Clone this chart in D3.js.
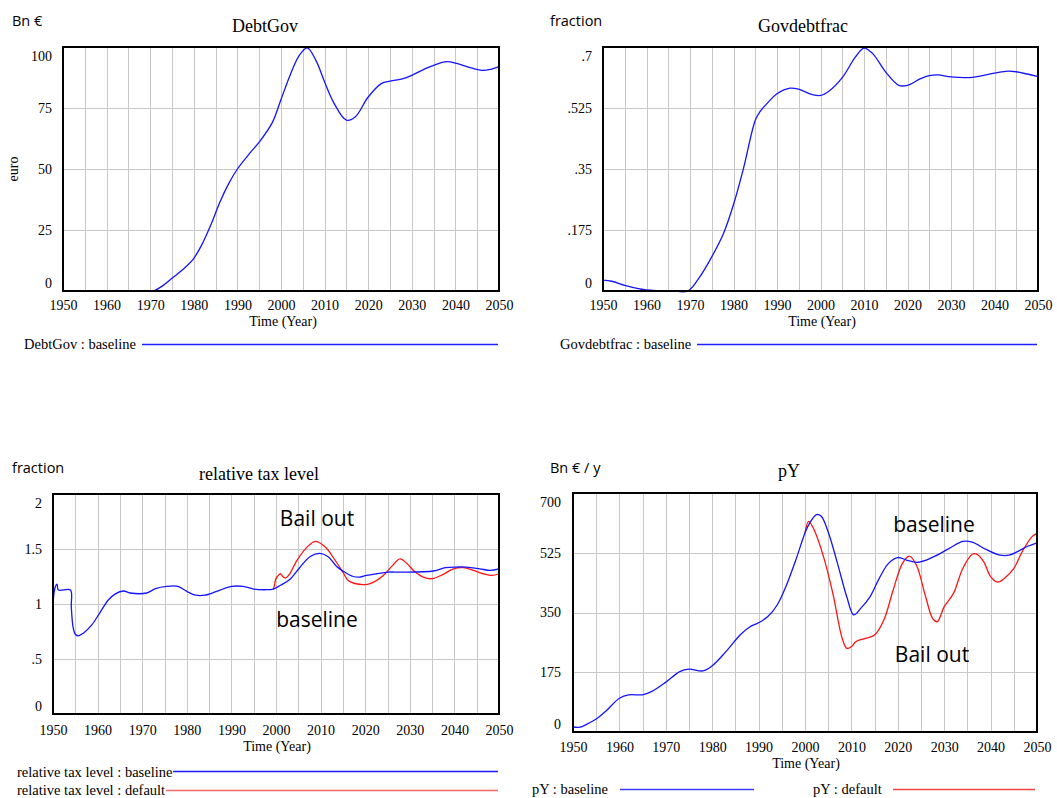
<!DOCTYPE html>
<html>
<head>
<meta charset="utf-8">
<script src="https://cdn.jsdelivr.net/npm/d3@7"></script>
<style>
  html, body { margin: 0; padding: 0; background: #fff; }
  svg { display: block; }
</style>
</head>
<body>
<script>
// ---------------- DATA ----------------
const xTickYears = [1950, 1960, 1970, 1980, 1990, 2000, 2010, 2020, 2030, 2040, 2050];
const xGridYears = d3.range(1955, 2050, 5);

const debtTicks = [0, 25, 50, 75, 100];
const debtTickLabels = ["0", "25", "50", "75", "100"];
const debtYears = [1950,1955,1960,1965,1970,1970.7,1973,1975,1978,1980,1982,1984,1986,1988,1990,1993,1995,1998,2000,2002,2004,2006,2008,2010,2012,2015,2017,2020,2023,2025,2028,2030,2033,2035,2038,2040,2043,2046,2048,2050];
const debtBaseline = [0,0,0,0,0,0,2.3,5.2,9.6,13.4,19.5,27.5,36.5,44,50,56.8,61,69,78.5,88,96,99.6,94.5,85.7,77.5,70,71.3,79.5,85,86,87,88.4,91,92.5,94,93.4,91.8,90.4,90.8,92];

const fracTicks = [0, 0.175, 0.35, 0.525, 0.7];
const fracTickLabels = ["0", ".175", ".35", ".525", ".7"];
const fracYears = [1950,1952,1955,1957,1960,1963,1966,1969.5,1972,1975,1977.7,1980,1982.3,1985,1986,1988,1990,1993,1995,1998,2000,2002,2005,2008,2010,2012,2015,2018,2020,2023,2025,2027,2030,2035,2040,2043,2045,2050];
const fracBaseline = [0.031,0.028,0.016,0.01,0.003,0.001,0,0,0.036,0.098,0.165,0.248,0.352,0.49,0.513,0.542,0.566,0.582,0.579,0.564,0.561,0.574,0.612,0.671,0.697,0.681,0.628,0.59,0.59,0.609,0.618,0.62,0.614,0.613,0.625,0.631,0.629,0.615];

const taxTicks = [0, 0.5, 1, 1.5, 2];
const taxTickLabels = ["0", ".5", "1", "1.5", "2"];
const taxYears = [1950,1950.5,1950.9,1951.2,1953.9,1954.1,1954.5,1955,1955.7,1956.8,1958.7,1960.5,1962.4,1963.9,1965.8,1967.3,1971,1973,1975.5,1978,1980,1982,1984,1986.7,1990,1992.6,1995,1997.9,1999.4,2001,2003,2005.3,2007.6,2009.8,2011.7,2013.6,2015,2017.3,2018.8,2020.3,2022.5,2025.2,2027.8,2035.3,2038,2040.5,2042.7,2045.7,2048,2050];
const taxBaseline = [1.01,1.155,1.18,1.127,1.127,0.975,0.79,0.725,0.71,0.735,0.81,0.92,1.036,1.09,1.118,1.10,1.10,1.14,1.16,1.16,1.115,1.08,1.08,1.115,1.16,1.16,1.136,1.13,1.136,1.17,1.22,1.33,1.43,1.46,1.43,1.34,1.30,1.25,1.245,1.26,1.275,1.29,1.29,1.30,1.33,1.336,1.336,1.32,1.306,1.32];
const taxDefaultYears = [1999.4,1999.6,1999.9,2000.3,2001,2001.5,2002.1,2003,2004.6,2006.8,2008.8,2011,2013.2,2015,2016.3,2019.6,2021.4,2024,2025.9,2027.8,2029.3,2031.2,2033,2035,2037.5,2039.8,2042,2044.2,2046.5,2048.4,2050];
const taxDefault = [1.136,1.16,1.22,1.25,1.275,1.25,1.236,1.27,1.39,1.51,1.57,1.52,1.40,1.29,1.21,1.176,1.19,1.257,1.34,1.41,1.37,1.29,1.245,1.23,1.27,1.32,1.33,1.306,1.275,1.26,1.275];

const pyTicks = [0, 175, 350, 525, 700];
const pyTickLabels = ["0", "175", "350", "525", "700"];
const pyYears = [1950,1951.5,1953,1955,1957,1960,1962,1965,1967,1970,1973,1975,1978,1980,1983,1986,1988,1990,1992,1994,1996,1998,2000,2001,2002.5,2003.5,2005,2007,2009,2010.5,2012,2014,2016,2018,2020,2022,2024,2026,2028,2031,2034,2036,2039,2042,2044,2046,2048,2050];
const pyBaseline = [14.6,14,23,38,60,99,109,109,119,146,177,184,179,194,236,284,307,320,338,372,430,503,583,612,637,632,586,494,396,343,362,396,450,494,511,503,497,503,515,537,558,556,535,518,518,530,544,554];
const pyDefaultYears = [2000,2000.8,2002,2004,2006,2008,2009,2010,2011,2013,2015,2017,2019,2021,2022.5,2024,2026,2027.5,2028.5,2030,2032,2034,2036,2037,2038.5,2040,2041.5,2043,2045,2047,2049,2050];
const pyDefault = [583,617,591,513,406,275,245,250,265,274,284,328,416,494,515,489,396,333,323,367,406,479,520,521,499,455,439,450,479,533,573,581];

// ---------------- DRAWING ----------------
const BLUE = "#1414ff", RED = "#ff1414";
const SERIF = "'Liberation Serif', 'Times New Roman', serif";
const SANS = "'Open Sans', 'Noto Sans', sans-serif";

const svg = d3.select("body").append("svg")
  .attr("width", 1057).attr("height", 798);

function zip(xs, ys) { return xs.map((x, i) => [x, ys[i]]); }

function serifText(sel, size) {
  return sel.style("font-family", SERIF).style("font-size", size + "px").attr("fill", "#000");
}

function panel(c) {
  const g = svg.append("g");
  const x = d3.scaleLinear().domain([1950, 2050]).range([c.left, c.right]);
  const y = d3.scaleLinear().domain([c.yTicks[0], c.yTicks[c.yTicks.length - 1]]).range([c.bottom, c.top]);

  // grid
  g.append("g").selectAll("line").data(xGridYears).join("line")
    .attr("x1", d => Math.round(x(d)) + 0.5).attr("x2", d => Math.round(x(d)) + 0.5)
    .attr("y1", c.top).attr("y2", c.bottom)
    .attr("stroke", "#c8c8c8").attr("stroke-width", 1);
  g.append("g").selectAll("line").data(c.yTicks.slice(1, -1)).join("line")
    .attr("x1", c.left).attr("x2", c.right)
    .attr("y1", d => Math.round(y(d)) + 0.5).attr("y2", d => Math.round(y(d)) + 0.5)
    .attr("stroke", "#c8c8c8").attr("stroke-width", 1);

  // axes
  const ya = g.append("g").attr("transform", `translate(${c.left},0)`)
    .call(d3.axisLeft(y).tickValues(c.yTicks).tickFormat((d, i) => c.yLabels[i]).tickSize(0).tickPadding(c.yPad || 11));
  ya.select(".domain").remove();
  ya.attr("font-family", null).attr("font-size", null);
  serifText(ya.selectAll("text"), 14);
  const yt = ya.selectAll("text").nodes();
  d3.select(yt[0]).attr("dy", "-0.25em");
  d3.select(yt[yt.length - 1]).attr("dy", "0.95em");

  const xa = g.append("g").attr("transform", `translate(0,${c.bottom})`)
    .call(d3.axisBottom(x).tickValues(xTickYears).tickFormat(d3.format("d")).tickSize(0).tickPadding(c.xPad));
  xa.select(".domain").remove();
  xa.attr("font-family", null).attr("font-size", null);
  serifText(xa.selectAll("text"), 14);

  // lines
  const line = d3.line().x(d => x(d[0])).y(d => y(d[1])).curve(d3.curveCatmullRom.alpha(0.5));
  c.series.forEach(s => {
    g.append("path").datum(zip(s.years, s.values))
      .attr("d", line).attr("fill", "none")
      .attr("stroke", s.color).attr("stroke-width", 1.3);
  });

  // frame
  g.append("rect").attr("x", c.left).attr("y", c.top)
    .attr("width", c.right - c.left).attr("height", c.bottom - c.top)
    .attr("fill", "none").attr("stroke", "#000").attr("stroke-width", 2);

  // texts
  serifText(g.append("text").attr("x", c.titleX).attr("y", c.titleY).attr("text-anchor", "middle"), 18).text(c.title);
  g.append("text").attr("x", c.unitX).attr("y", c.unitY)
    .style("font-family", SANS).style("font-size", "14.5px").text(c.unit);
  serifText(g.append("text").attr("x", c.xTitleX).attr("y", c.xTitleY).attr("text-anchor", "middle"), 14).text("Time (Year)");
  if (c.yTitle) {
    serifText(g.append("text").attr("transform", `translate(${c.yTitleX},${c.yTitleY}) rotate(-90)`)
      .attr("text-anchor", "middle"), 14).text(c.yTitle);
  }
  c.legends.forEach(l => {
    serifText(g.append("text").attr("x", l.x).attr("y", l.y), 14.5).text(l.text);
    g.append("line").attr("x1", l.x1).attr("x2", l.x2).attr("y1", l.ly + 0.5).attr("y2", l.ly + 0.5)
      .attr("stroke", l.color).attr("stroke-width", 1.4);
  });
  (c.notes || []).forEach(n => {
    g.append("text").attr("x", n.x).attr("y", n.y).attr("text-anchor", "middle")
      .style("font-family", SANS).style("font-size", "21px").text(n.text);
  });
}

panel({
  left: 63, right: 499, top: 47, bottom: 291, xPad: 9,
  yTicks: debtTicks, yLabels: debtTickLabels,
  series: [{ years: debtYears, values: debtBaseline, color: BLUE }],
  title: "DebtGov", titleX: 265, titleY: 32,
  unit: "Bn €", unitX: 12, unitY: 26,
  xTitleX: 283, xTitleY: 326,
  yTitle: "euro", yTitleX: 18, yTitleY: 169,
  legends: [{ text: "DebtGov : baseline", x: 24, y: 349, x1: 142, x2: 498, ly: 344, color: "#2020ff" }]
});

panel({
  left: 603, right: 1038, top: 47, bottom: 291, xPad: 9,
  yTicks: fracTicks, yLabels: fracTickLabels,
  series: [{ years: fracYears, values: fracBaseline, color: BLUE }],
  title: "Govdebtfrac", titleX: 803, titleY: 32,
  unit: "fraction", unitX: 550, unitY: 26,
  xTitleX: 822, xTitleY: 326,
  legends: [{ text: "Govdebtfrac : baseline", x: 560, y: 349, x1: 697, x2: 1037, ly: 344, color: "#2020ff" }]
});

panel({
  left: 53, right: 499, top: 494, bottom: 714, xPad: 11,
  yTicks: taxTicks, yLabels: taxTickLabels,
  series: [
    { years: taxDefaultYears, values: taxDefault, color: RED },
    { years: taxYears, values: taxBaseline, color: BLUE }
  ],
  title: "relative tax level", titleX: 259, titleY: 480,
  unit: "fraction", unitX: 12, unitY: 473,
  xTitleX: 277, xTitleY: 751,
  legends: [
    { text: "relative tax level : baseline", x: 17, y: 777, x1: 173, x2: 498, ly: 771, color: "#1a1aff" },
    { text: "relative tax level : default", x: 17, y: 795, x1: 166, x2: 498, ly: 790, color: "#f26a6a" }
  ],
  notes: [{ text: "Bail out", x: 317, y: 526 }, { text: "baseline", x: 317, y: 627 }]
});

panel({
  left: 573, right: 1037, top: 493, bottom: 732, xPad: 10, yPad: 12,
  yTicks: pyTicks, yLabels: pyTickLabels,
  series: [
    { years: pyDefaultYears, values: pyDefault, color: RED },
    { years: pyYears, values: pyBaseline, color: BLUE }
  ],
  title: "pY", titleX: 789, titleY: 477,
  unit: "Bn € / y", unitX: 550, unitY: 473,
  xTitleX: 806, xTitleY: 768,
  legends: [
    { text: "pY : baseline", x: 532, y: 794, x1: 620, x2: 754, ly: 789, color: "#3a3aff" },
    { text: "pY : default", x: 813, y: 794, x1: 893, x2: 1035, ly: 789, color: "#f54545" }
  ],
  notes: [{ text: "baseline", x: 934, y: 532 }, { text: "Bail out", x: 932, y: 662 }]
});
</script>
</body>
</html>
